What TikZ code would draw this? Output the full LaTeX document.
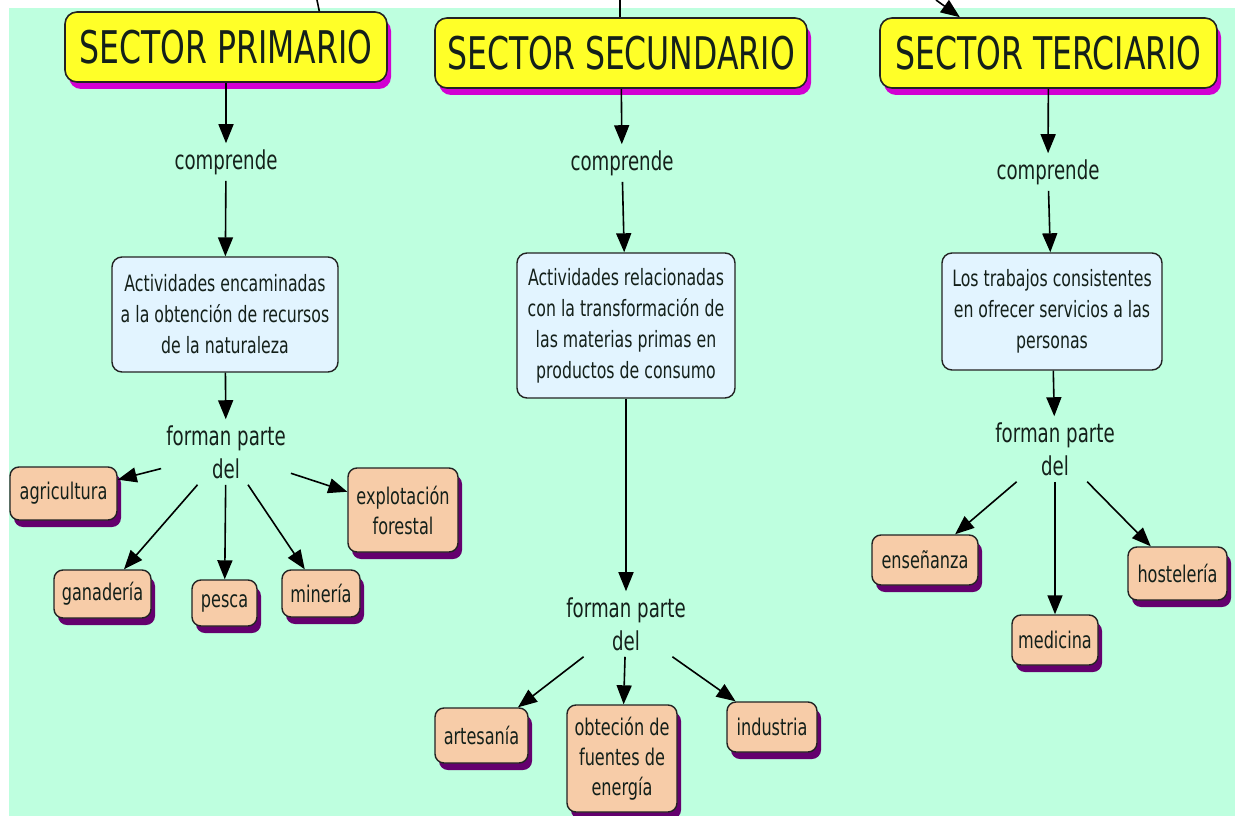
\documentclass[tikz,border=0pt]{standalone}
\usepackage{fontspec}
\newfontfamily\sectorMapFont[FakeStretch=0.7]{DejaVu Sans}
\usetikzlibrary{arrows.meta,shadows}
\definecolor{sectorMapBackground}{RGB}{190,255,223}
\definecolor{sectorMapTitleFill}{RGB}{255,255,40}
\definecolor{sectorMapTitleShadow}{RGB}{210,0,210}
\definecolor{sectorMapConceptFill}{RGB}{226,244,255}
\definecolor{sectorMapLeafFill}{RGB}{247,204,168}
\definecolor{sectorMapLeafShadow}{RGB}{100,0,110}
\definecolor{sectorMapBorder}{RGB}{35,35,35}
\definecolor{sectorMapText}{RGB}{20,32,26}
\tikzset{sectorMapTitle/.style={
    font=\sectorMapFont\fontsize{45}{54}\selectfont,
    text=sectorMapText,
    fill=sectorMapTitleFill,
    draw=sectorMapBorder,
    line width=1.6pt,
    rounded corners=12pt,
    minimum height=70pt,
    inner sep=0pt,
    drop shadow={shadow xshift=4pt, shadow yshift=-7pt,
      fill=sectorMapTitleShadow, opacity=1},
  }
}
\tikzset{sectorMapConcept/.style={
    font=\sectorMapFont\fontsize{22.5}{31}\selectfont,
    text=sectorMapText,
    fill=sectorMapConceptFill,
    draw=sectorMapBorder,
    line width=1.4pt,
    rounded corners=10pt,
    align=center,
    inner sep=2pt,
  }
}
\tikzset{sectorMapLeaf/.style={
    font=\sectorMapFont\fontsize{23}{30}\selectfont,
    text=sectorMapText,
    fill=sectorMapLeafFill,
    draw=sectorMapBorder,
    line width=1.4pt,
    rounded corners=9pt,
    align=center,
    inner sep=2pt,
    drop shadow={shadow xshift=4pt, shadow yshift=-7pt,
      fill=sectorMapLeafShadow, opacity=1},
  }
}
\tikzset{sectorMapLink/.style={
    font=\sectorMapFont\fontsize{26}{33}\selectfont,
    text=sectorMapText,
    align=center,
    inner xsep=5pt,
    inner ysep=6pt,
  }
}
\tikzset{sectorMapArrow/.style={
    -{Triangle[length=19pt,width=15pt]},
    line width=1.6pt,
    black,
  }
}
\newcommand{\sectorMapDefineSize}{
  \useasboundingbox (0, 0) rectangle (1235, 816);
  \fill [sectorMapBackground] (9, 8) rectangle (1235, 816);
}
\newcommand{\sectorMapDrawNodes}{
  \node [anchor = center, sectorMapTitle, minimum width=322pt] (primTitle)
  at (226, 47) {SECTOR PRIMARIO};
  \node [anchor = center, sectorMapTitle, minimum width=372pt] (secTitle)
  at (621, 53) {SECTOR SECUNDARIO};
  \node [anchor = center, sectorMapTitle, minimum width=337pt] (tercTitle)
  at (1048.5, 53) {SECTOR TERCIARIO};

  \node [anchor = center, sectorMapLink] (primComp) at (226, 162) {comprende};
  \node [anchor = center, sectorMapLink] (secComp) at (622, 163) {comprende};
  \node [anchor = center, sectorMapLink] (tercComp) at (1048, 172) {comprende};

  \node [anchor = center, sectorMapConcept, minimum width=226pt, minimum height=115pt]
  (primBox) at (225, 314.5)
  {Actividades encaminadas\\a la obtención de recursos\\de la naturaleza};
  \node [anchor = center, sectorMapConcept, minimum width=218pt, minimum height=145pt]
  (secBox) at (626, 325.5)
  {Actividades relacionadas\\con la transformación de\\las materias primas en\\productos de consumo};
  \node [anchor = center, sectorMapConcept, minimum width=220pt, minimum height=117pt]
  (tercBox) at (1052, 311.5)
  {Los trabajos consistentes\\en ofrecer servicios a las\\personas};

  \node [anchor = center, sectorMapLink] (primLink) at (226, 452) {forman parte\\del};
  \node [anchor = center, sectorMapLink] (secLink) at (626, 624) {forman parte\\del};
  \node [anchor = center, sectorMapLink] (tercLink) at (1055, 449) {forman parte\\del};

  \node [anchor = center, sectorMapLeaf, minimum width=107pt, minimum height=53pt]
  (agricultura) at (63.5, 493.5) {agricultura};
  \node [anchor = center, sectorMapLeaf, minimum width=110pt, minimum height=84pt]
  (forestal) at (403, 510) {explotación\\forestal};
  \node [anchor = center, sectorMapLeaf, minimum width=97pt, minimum height=48pt]
  (ganaderia) at (102.5, 594) {ganadería};
  \node [anchor = center, sectorMapLeaf, minimum width=65pt, minimum height=46pt]
  (pesca) at (224.5, 603) {pesca};
  \node [anchor = center, sectorMapLeaf, minimum width=78pt, minimum height=47pt]
  (mineria) at (321, 593.5) {minería};

  \node [anchor = center, sectorMapLeaf, minimum width=93pt, minimum height=55pt]
  (artesania) at (481.5, 735.5) {artesanía};
  \node [anchor = center, sectorMapLeaf, minimum width=110pt, minimum height=107pt]
  (energia) at (622, 758.5) {obteción de\\fuentes de\\energía};
  \node [anchor = center, sectorMapLeaf, minimum width=90pt, minimum height=50pt]
  (industria) at (772, 727) {industria};

  \node [anchor = center, sectorMapLeaf, minimum width=106pt, minimum height=50pt]
  (ensenanza) at (925, 560) {enseñanza};
  \node [anchor = center, sectorMapLeaf, minimum width=86pt, minimum height=50pt]
  (medicina) at (1055, 640) {medicina};
  \node [anchor = center, sectorMapLeaf, minimum width=99pt, minimum height=53pt]
  (hosteleria) at (1177.5, 573.5) {hostelería};

  \coordinate (primIn) at (317, 0);
  \coordinate (secIn) at (620, 0);
  \coordinate (tercIn) at (936, 0);
}
\newcommand{\sectorMapConnectNodes}{
  \draw [sectorMapArrow, -] (primIn) to (primTitle.21);
  \draw [sectorMapArrow, -] (secIn) to (secTitle.north -| secIn);
  \draw [sectorMapArrow] (tercIn) to (tercTitle.158);

  \draw [sectorMapArrow] (primTitle) to (primComp);
  \draw [sectorMapArrow] (primComp) to (primBox);
  \draw [sectorMapArrow] (primBox) to (primLink);
  \draw [sectorMapArrow] (primLink) to (agricultura);
  \draw [sectorMapArrow] (primLink) to (forestal);
  \draw [sectorMapArrow] (primLink) to (ganaderia);
  \draw [sectorMapArrow] (primLink) to (pesca);
  \draw [sectorMapArrow] (primLink) to (mineria);

  \draw [sectorMapArrow] (secTitle) to (secComp);
  \draw [sectorMapArrow] (secComp) to (secBox);
  \draw [sectorMapArrow] (secBox) to (secLink);
  \draw [sectorMapArrow] (secLink) to (artesania);
  \draw [sectorMapArrow] (secLink) to (energia);
  \draw [sectorMapArrow] (secLink) to (industria);

  \draw [sectorMapArrow] (tercTitle) to (tercComp);
  \draw [sectorMapArrow] (tercComp) to (tercBox);
  \draw [sectorMapArrow] (tercBox) to (tercLink);
  \draw [sectorMapArrow] (tercLink) to (ensenanza);
  \draw [sectorMapArrow] (tercLink) to (medicina);
  \draw [sectorMapArrow] (tercLink) to (hosteleria);
}

\begin{document}
\begin{tikzpicture}[x=1pt, y=-1pt]
      \sectorMapDefineSize
      \sectorMapDrawNodes
      \sectorMapConnectNodes
    \end{tikzpicture}
\end{document}
